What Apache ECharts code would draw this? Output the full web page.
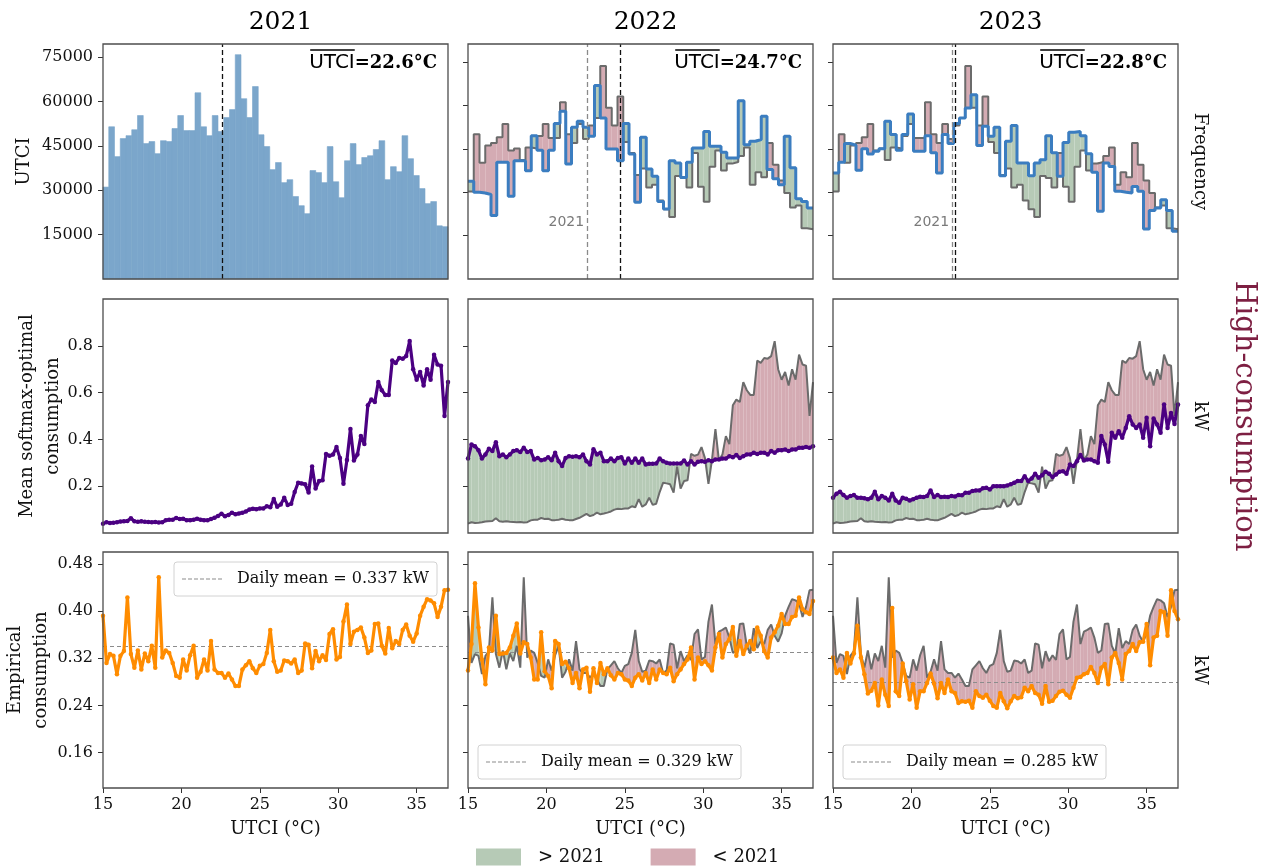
<!DOCTYPE html>
<html>
<head>
<meta charset="utf-8">
<script src="https://cdn.jsdelivr.net/npm/echarts@6/dist/echarts.min.js"></script>
<style>
  html, body { margin: 0; padding: 0; background: #fff; }
  #chart { width: 1272px; height: 867px; }
</style>
</head>
<body>
<div id="chart"></div>
<script>
// ---------------------------------------------------------------- data
const years = ['2021', '2022', '2023'];
const meanUtci = [22.6, 24.7, 22.8];          // yearly mean UTCI (°C)
const dailyMean = [0.337, 0.329, 0.285];      // daily mean consumption (kW)
const refYear = '2021';

// UTCI histogram: 60 bins between 15 and 37 °C
const histLo = 15, histHi = 37, histBins = 60;
const hist2021 = [31100, 51500, 41400, 47500, 48500, 50500, 55300, 45800, 46500, 42400,
  46800, 46500, 50900, 55300, 50200, 50200, 63000, 51500, 48500, 55300,
  49900, 54600, 57300, 75900, 61000, 54600, 65100, 48800, 44800, 37000,
  39400, 32600, 33600, 27900, 24800, 22100, 36700, 36000, 32600, 44800,
  32900, 27500, 40000, 45800, 38700, 41100, 41700, 43800, 46800, 33600,
  38000, 36300, 48500, 40700, 35000, 30600, 25500, 26200, 18000, 17700];
// 2021 reference steps as shown in the 2022 / 2023 panels
const hist2021Ref = [30200, 50000, 40200, 46100, 47000, 49000, 53600, 44400, 45100, 41100,
  45400, 45100, 49400, 53600, 48700, 48700, 61100, 50000, 47000, 53600,
  48400, 53000, 55600, 73600, 59200, 53000, 63100, 47300, 43500, 35900,
  38200, 31600, 32600, 27100, 24100, 21400, 35600, 34900, 31600, 43500,
  31900, 26700, 38800, 44400, 37500, 39900, 40400, 42500, 45400, 32600,
  36900, 35200, 47000, 39500, 34000, 29700, 24700, 25400, 17500, 17200];
const hist2022 = [33800, 30000, 29700, 29200, 21900, 40300, 40300, 28600, 40900, 40900,
  37400, 49500, 44500, 37400, 44500, 53700, 58000, 39700, 52400, 54500,
  52400, 49300, 66900, 55600, 44900, 44900, 40900, 53700, 43200, 26500,
  49000, 38000, 35500, 26800, 24200, 40900, 40100, 35100, 40300, 45300,
  45300, 51000, 45900, 45900, 43800, 41800, 41800, 61600, 46400, 47600,
  48200, 56200, 37800, 34600, 32600, 49300, 38400, 27700, 26800, 24500];
const hist2023 = [36600, 40300, 46800, 46200, 37600, 45000, 43200, 44100, 45000, 54500,
  49900, 44500, 49900, 57000, 44100, 44100, 49500, 43600, 36600, 49900,
  46800, 53700, 55600, 59100, 63700, 46100, 52800, 49300, 52400, 35700,
  47600, 53000, 40100, 40100, 35700, 40100, 41200, 49500, 43600, 35500,
  47200, 50700, 51000, 49500, 43300, 36900, 23400, 40100, 38900, 30300,
  30000, 29700, 32000, 30300, 17300, 23700, 24500, 27400, 23700, 16500];

// UTCI grid of the consumption curves: 100 points from 15 to 37 °C
const curveLo = 15, curveHi = 37, curveN = 100;
const softmax2021 = [0.040, 0.046, 0.043, 0.044, 0.046, 0.049, 0.050, 0.051, 0.063, 0.050,
  0.048, 0.050, 0.048, 0.047, 0.046, 0.047, 0.045, 0.046, 0.054, 0.057,
  0.057, 0.064, 0.060, 0.061, 0.055, 0.055, 0.057, 0.061, 0.057, 0.055,
  0.054, 0.060, 0.065, 0.073, 0.082, 0.072, 0.077, 0.087, 0.080, 0.083,
  0.087, 0.092, 0.100, 0.104, 0.102, 0.105, 0.105, 0.114, 0.110, 0.145,
  0.112, 0.122, 0.151, 0.120, 0.125, 0.175, 0.215, 0.212, 0.208, 0.173,
  0.284, 0.190, 0.222, 0.225, 0.338, 0.330, 0.335, 0.367, 0.320, 0.210,
  0.312, 0.444, 0.310, 0.335, 0.414, 0.380, 0.546, 0.570, 0.560, 0.645,
  0.610, 0.590, 0.590, 0.737, 0.727, 0.748, 0.745, 0.756, 0.820, 0.700,
  0.655, 0.688, 0.630, 0.700, 0.655, 0.762, 0.720, 0.715, 0.500, 0.645];
const softmax2022 = [0.318, 0.378, 0.371, 0.354, 0.318, 0.336, 0.360, 0.350, 0.388, 0.328,
  0.336, 0.324, 0.336, 0.350, 0.354, 0.346, 0.364, 0.346, 0.350, 0.314,
  0.321, 0.311, 0.314, 0.324, 0.311, 0.343, 0.307, 0.286, 0.321, 0.328,
  0.326, 0.328, 0.324, 0.336, 0.307, 0.293, 0.358, 0.336, 0.343, 0.307,
  0.307, 0.318, 0.307, 0.321, 0.324, 0.297, 0.318, 0.300, 0.318, 0.300,
  0.318, 0.293, 0.296, 0.296, 0.297, 0.318, 0.307, 0.300, 0.297, 0.297,
  0.297, 0.297, 0.310, 0.293, 0.307, 0.293, 0.304, 0.307, 0.304, 0.311,
  0.307, 0.314, 0.314, 0.318, 0.318, 0.328, 0.324, 0.333, 0.321, 0.328,
  0.336, 0.336, 0.343, 0.338, 0.343, 0.343, 0.336, 0.350, 0.343, 0.354,
  0.354, 0.357, 0.350, 0.357, 0.357, 0.364, 0.364, 0.367, 0.364, 0.371];
const softmax2023 = [0.151, 0.168, 0.176, 0.162, 0.151, 0.158, 0.162, 0.151, 0.151, 0.148,
  0.144, 0.151, 0.176, 0.144, 0.158, 0.151, 0.139, 0.168, 0.139, 0.129,
  0.151, 0.146, 0.139, 0.144, 0.151, 0.155, 0.154, 0.158, 0.182, 0.154,
  0.162, 0.154, 0.155, 0.154, 0.158, 0.156, 0.162, 0.161, 0.172, 0.172,
  0.179, 0.182, 0.182, 0.191, 0.193, 0.186, 0.200, 0.200, 0.200, 0.200,
  0.203, 0.208, 0.215, 0.222, 0.222, 0.243, 0.222, 0.233, 0.253, 0.236,
  0.247, 0.262, 0.253, 0.239, 0.250, 0.262, 0.264, 0.253, 0.293, 0.286,
  0.307, 0.333, 0.310, 0.314, 0.314, 0.307, 0.300, 0.414, 0.378, 0.304,
  0.428, 0.407, 0.435, 0.407, 0.449, 0.499, 0.464, 0.449, 0.464, 0.407,
  0.492, 0.371, 0.489, 0.464, 0.428, 0.549, 0.449, 0.513, 0.466, 0.549];

const empirical2021 = [0.392, 0.312, 0.327, 0.324, 0.293, 0.324, 0.332, 0.423, 0.327, 0.304,
  0.333, 0.301, 0.328, 0.315, 0.341, 0.304, 0.457, 0.321, 0.333, 0.329,
  0.312, 0.290, 0.287, 0.318, 0.299, 0.325, 0.341, 0.287, 0.297, 0.318,
  0.299, 0.349, 0.301, 0.295, 0.295, 0.287, 0.294, 0.284, 0.273, 0.273,
  0.301, 0.308, 0.315, 0.303, 0.295, 0.307, 0.310, 0.329, 0.368, 0.315,
  0.297, 0.299, 0.316, 0.315, 0.311, 0.318, 0.295, 0.299, 0.345, 0.343,
  0.303, 0.332, 0.315, 0.325, 0.317, 0.361, 0.369, 0.318, 0.322, 0.382,
  0.411, 0.344, 0.365, 0.368, 0.372, 0.355, 0.329, 0.333, 0.378, 0.379,
  0.341, 0.328, 0.371, 0.337, 0.349, 0.344, 0.368, 0.377, 0.358, 0.348,
  0.362, 0.392, 0.407, 0.420, 0.418, 0.413, 0.390, 0.407, 0.435, 0.436];
const empirical2022 = [0.299, 0.344, 0.447, 0.372, 0.318, 0.276, 0.338, 0.333, 0.392, 0.327,
  0.328, 0.329, 0.338, 0.358, 0.379, 0.328, 0.347, 0.344, 0.321, 0.284,
  0.284, 0.364, 0.298, 0.290, 0.269, 0.349, 0.344, 0.310, 0.314, 0.303,
  0.278, 0.295, 0.269, 0.301, 0.304, 0.263, 0.303, 0.278, 0.312, 0.293,
  0.303, 0.291, 0.284, 0.295, 0.293, 0.284, 0.282, 0.273, 0.287, 0.293,
  0.282, 0.295, 0.278, 0.301, 0.284, 0.301, 0.295, 0.293, 0.304, 0.281,
  0.293, 0.301, 0.310, 0.318, 0.338, 0.284, 0.321, 0.310, 0.315, 0.308,
  0.299, 0.338, 0.361, 0.321, 0.344, 0.352, 0.373, 0.324, 0.349, 0.327,
  0.341, 0.349, 0.335, 0.372, 0.358, 0.332, 0.321, 0.355, 0.364, 0.375,
  0.395, 0.378, 0.378, 0.390, 0.392, 0.423, 0.403, 0.398, 0.395, 0.417];
const empirical2023 = [0.321, 0.295, 0.301, 0.287, 0.329, 0.311, 0.328, 0.375, 0.321, 0.293,
  0.260, 0.265, 0.278, 0.240, 0.284, 0.258, 0.239, 0.405, 0.264, 0.256,
  0.311, 0.281, 0.250, 0.276, 0.236, 0.264, 0.264, 0.278, 0.294, 0.277,
  0.252, 0.278, 0.261, 0.284, 0.264, 0.261, 0.244, 0.247, 0.246, 0.248,
  0.236, 0.264, 0.256, 0.253, 0.258, 0.248, 0.239, 0.236, 0.261, 0.247,
  0.235, 0.247, 0.256, 0.252, 0.254, 0.270, 0.264, 0.273, 0.261, 0.258,
  0.243, 0.273, 0.246, 0.248, 0.256, 0.263, 0.265, 0.258, 0.253, 0.270,
  0.287, 0.288, 0.293, 0.295, 0.305, 0.295, 0.278, 0.304, 0.310, 0.276,
  0.321, 0.329, 0.312, 0.284, 0.327, 0.332, 0.344, 0.332, 0.347, 0.348,
  0.378, 0.308, 0.355, 0.358, 0.400, 0.398, 0.358, 0.435, 0.400, 0.386];

// axis ticks
const xTicks = [15, 20, 25, 30, 35];
const freqTicks = [15000, 30000, 45000, 60000, 75000];
const softmaxTicks = [0.2, 0.4, 0.6, 0.8];
const empiricalTicks = [0.16, 0.24, 0.32, 0.40, 0.48];

// ---------------------------------------------------------------- layout & style
const gridLeft = [103, 468, 833], gridW = 345;
const gridTop = [44, 299, 552], gridH = [235, 234, 236];
const SERIF = '"DejaVu Serif", serif';
const SANS = '"DejaVu Sans", sans-serif';
const C = {
  bar: '#7ba6cb', blue: '#3b7dc0', gray: '#6b6b6b', purple: '#4b0082',
  orange: '#ff8c00', above: '#b6cab6', below: '#d4abb3', maroon: '#7d1f42'
};
const GREEN_NAME = '> ' + refYear, PINK_NAME = '< ' + refYear;

const binEdges = Array.from({ length: histBins + 1 }, (_, k) => histLo + k * (histHi - histLo) / histBins);
const utci = Array.from({ length: curveN }, (_, i) => curveLo + i * (curveHi - curveLo) / (curveN - 1));

const histNew = [hist2021, hist2022, hist2023];
const softmax = [softmax2021, softmax2022, softmax2023];
const empirical = [empirical2021, empirical2022, empirical2023];

// ---------------------------------------------------------------- helpers
const measureCtx = document.createElement('canvas').getContext('2d');
function textWidth(str, font) { measureCtx.font = font; return measureCtx.measureText(str).width; }

function stepItems(values) {   // step line points at the bin edges
  return binEdges.map((e, k) => [e, values[Math.min(k, values.length - 1)]]);
}
function stepFillItems(newV, refV) {
  return newV.map((v, k) => [binEdges[k], binEdges[k + 1], v, refV[k]]);
}
function bandItems(newV, refV) {
  const out = [];
  for (let i = 0; i < curveN - 1; i++) {
    out.push([utci[i], utci[i + 1], newV[i], newV[i + 1], refV[i], refV[i + 1]]);
  }
  return out;
}
const empty = { type: 'group', children: [] };

// filled rectangles between two histograms, keeping only one sign
function stepFill(sign) {
  return function (params, api) {
    const x0 = api.value(0), x1 = api.value(1), a = api.value(2), b = api.value(3);
    if ((a - b) * sign <= 0) return empty;
    const p0 = api.coord([x0, Math.max(a, b)]), p1 = api.coord([x1, Math.min(a, b)]);
    return {
      type: 'rect',
      shape: { x: p0[0], y: p0[1], width: p1[0] - p0[0], height: p1[1] - p0[1] },
      style: { fill: api.visual('color') }
    };
  };
}
// filled band between two curves on one segment, split where they cross
function bandFill(sign) {
  return function (params, api) {
    const x0 = api.value(0), x1 = api.value(1);
    const a0 = api.value(2), a1 = api.value(3), b0 = api.value(4), b1 = api.value(5);
    const d0 = (a0 - b0) * sign, d1 = (a1 - b1) * sign;
    let poly = null;
    if (d0 >= 0 && d1 >= 0) poly = [[x0, a0], [x1, a1], [x1, b1], [x0, b0]];
    else if (d0 > 0 || d1 > 0) {
      const t = d0 / (d0 - d1);
      const xc = x0 + t * (x1 - x0), yc = a0 + t * (a1 - a0);
      poly = d0 > 0 ? [[x0, a0], [xc, yc], [x0, b0]] : [[xc, yc], [x1, a1], [x1, b1]];
    }
    if (!poly) return empty;
    return {
      type: 'polygon',
      shape: { points: poly.map(p => api.coord(p)) },
      style: { fill: api.visual('color') }
    };
  };
}

// ---------------------------------------------------------------- grids & axes
const grids = [], xAxes = [], yAxes = [];
const yRange = [
  [[0, 79500], [0, 81200], [0, 81200]],
  [[0, 1], [0, 1], [0, 1]],
  [[0.1, 0.5], [0.1, 0.5], [0.1, 0.5]]
];
const yTicks = [freqTicks, softmaxTicks, empiricalTicks];
const yFmt = [v => String(v), v => v.toFixed(1), v => v.toFixed(2)];
const yNames = ['UTCI', 'Mean softmax-optimal\nconsumption', 'Empirical\nconsumption'];
const yNameGap = [66, 37, 49];

for (let r = 0; r < 3; r++) {
  for (let c = 0; c < 3; c++) {
    grids.push({
      left: gridLeft[c], top: gridTop[r], width: gridW, height: gridH[r],
      show: true, borderColor: '#4d4d4d', borderWidth: 1.3,
      backgroundColor: 'transparent', z: 6
    });
    const idx = r * 3 + c;
    const bottom = r === 2;
    xAxes.push({
      type: 'value', gridIndex: idx, min: histLo, max: histHi,
      axisLine: { show: false },
      splitLine: { show: false },
      axisTick: { show: bottom, length: 5, customValues: xTicks, lineStyle: { color: '#333' } },
      axisLabel: {
        show: bottom, customValues: xTicks, margin: 9,
        fontFamily: SERIF, fontSize: 16, color: '#111'
      },
      name: bottom ? 'UTCI (°C)' : '', nameLocation: 'middle', nameGap: 32,
      nameMoveOverlap: false,
      nameTextStyle: { fontFamily: SERIF, fontSize: 18, color: '#111' }
    });
    yAxes.push({
      type: 'value', gridIndex: idx, min: yRange[r][c][0], max: yRange[r][c][1],
      axisLine: { show: false },
      splitLine: { show: false },
      axisTick: { show: true, length: 5, customValues: yTicks[r], lineStyle: { color: '#333' } },
      axisLabel: {
        show: c === 0, customValues: yTicks[r], margin: 10, formatter: yFmt[r],
        fontFamily: SERIF, fontSize: 16, color: '#111'
      },
      name: c === 0 ? yNames[r] : '', nameLocation: 'middle', nameRotate: 90,
      nameGap: yNameGap[r], nameMoveOverlap: false,
      nameTextStyle: { fontFamily: SERIF, fontSize: 18, color: '#111', lineHeight: 26, align: 'center' }
    });
  }
}

// ---------------------------------------------------------------- series
const series = [];
const vline = (x, color) => ({ xAxis: x, lineStyle: { color } });
const markV = lines => ({
  silent: true, symbol: ['none', 'none'], label: { show: false },
  lineStyle: { type: [5, 3], width: 1.3 }, data: lines
});

// row 1: UTCI histograms
series.push({
  type: 'custom', name: 'hist ' + years[0], xAxisIndex: 0, yAxisIndex: 0,
  data: hist2021.map((v, k) => [binEdges[k], binEdges[k + 1], v]),
  encode: { x: [0, 1], y: 2 },
  renderItem: function (params, api) {
    const p0 = api.coord([api.value(0), api.value(2)]);
    const p1 = api.coord([api.value(1), 0]);
    return {
      type: 'rect',
      shape: { x: p0[0], y: p0[1], width: p1[0] - p0[0], height: p1[1] - p0[1] },
      style: { fill: C.bar, stroke: C.bar, lineWidth: 0.6 }
    };
  },
  markLine: markV([vline(meanUtci[0], '#111')]),
  z: 2
});
for (let c = 1; c < 3; c++) {
  const items = stepFillItems(histNew[c], hist2021Ref);
  [[GREEN_NAME, 1, C.above], [PINK_NAME, -1, C.below]].forEach(([nm, sg, col]) => {
    series.push({
      type: 'custom', name: nm, xAxisIndex: c, yAxisIndex: c,
      data: items, encode: { x: [0, 1], y: [2, 3] },
      itemStyle: { color: col }, renderItem: stepFill(sg), z: 1
    });
  });
  series.push({
    type: 'line', name: 'ref hist ' + years[c], xAxisIndex: c, yAxisIndex: c,
    data: stepItems(hist2021Ref), step: 'end', symbol: 'none',
    lineStyle: { color: C.gray, width: 2 }, z: 3,
    markLine: markV([vline(meanUtci[0], '#8a8a8a'), vline(meanUtci[c], '#111')]),
    markPoint: {
      symbol: 'circle', symbolSize: 0, silent: true,
      data: [{
        coord: [meanUtci[0], 19500],
        label: {
          show: true, position: 'left', distance: 3, formatter: refYear,
          fontFamily: SANS, fontSize: 14, color: '#7a7a7a'
        }
      }]
    }
  });
  series.push({
    type: 'line', name: 'hist ' + years[c], xAxisIndex: c, yAxisIndex: c,
    data: stepItems(histNew[c]), step: 'end', symbol: 'none',
    lineStyle: { color: C.blue, width: 3 }, z: 4
  });
}

// rows 2 and 3: consumption curves
function curveRow(r, arrs, color, withMean) {
  for (let c = 0; c < 3; c++) {
    const ax = r * 3 + c;
    if (c > 0) {
      const items = bandItems(arrs[c], arrs[0]);
      [[GREEN_NAME, 1, C.above], [PINK_NAME, -1, C.below]].forEach(([nm, sg, col]) => {
        series.push({
          type: 'custom', name: nm, xAxisIndex: ax, yAxisIndex: ax,
          data: items, encode: { x: [0, 1], y: [2, 3, 4, 5] },
          itemStyle: { color: col }, renderItem: bandFill(sg), z: 1
        });
      });
      series.push({
        type: 'line', name: 'ref ' + years[c], xAxisIndex: ax, yAxisIndex: ax,
        data: utci.map((x, i) => [x, arrs[0][i]]), symbol: 'none',
        lineStyle: { color: C.gray, width: 2 }, z: 3
      });
    }
    const s = {
      type: 'line', name: 'curve ' + years[c], xAxisIndex: ax, yAxisIndex: ax,
      data: utci.map((x, i) => [x, arrs[c][i]]),
      symbol: 'circle', symbolSize: 4.5, showSymbol: true, showAllSymbol: true,
      itemStyle: { color }, lineStyle: { color, width: 3.2 }, z: 4
    };
    if (withMean) {
      s.markLine = {
        silent: true, symbol: ['none', 'none'], label: { show: false }, z: 2,
        lineStyle: { color: '#8c8c8c', type: [4, 3], width: 1.2 },
        data: [{ yAxis: dailyMean[c] }]
      };
    }
    series.push(s);
  }
}
curveRow(1, softmax, C.purple, false);
curveRow(2, empirical, C.orange, true);

// ---------------------------------------------------------------- text & annotations
const graphic = [];
// yearly mean UTCI labels (overlined UTCI)
for (let c = 0; c < 3; c++) {
  const right = gridLeft[c] + gridW - 11;
  const f1 = '20px ' + SANS, f2 = 'bold 18px ' + SERIF;
  const t2 = '=' + meanUtci[c].toFixed(1) + '°C';
  const w1 = textWidth('UTCI', f1), w2 = textWidth(t2, f2);
  const x1 = right - w2 - w1;
  graphic.push(
    { type: 'text', x: x1, y: 63, z: 100, style: { text: 'UTCI', font: f1, fill: '#000', verticalAlign: 'middle' } },
    { type: 'line', z: 100, shape: { x1: x1 + 1, y1: 50, x2: x1 + w1, y2: 50 }, style: { stroke: '#000', lineWidth: 1.6 } },
    { type: 'text', x: right - w2, y: 63, z: 100, style: { text: t2, font: f2, fill: '#000', verticalAlign: 'middle' } }
  );
}
// daily mean legends
for (let c = 0; c < 3; c++) {
  const bx = c === 0 ? gridLeft[0] + 71 : gridLeft[c] + 10;
  const by = c === 0 ? gridTop[2] + 10 : gridTop[2] + 193;
  graphic.push(
    { type: 'rect', z: 100, shape: { x: bx, y: by, width: 263, height: 34, r: 3 },
      style: { fill: 'rgba(255,255,255,0.85)', stroke: '#d2d2d2', lineWidth: 1 } },
    { type: 'line', z: 101, shape: { x1: bx + 8, y1: by + 17, x2: bx + 48, y2: by + 17 },
      style: { stroke: '#8c8c8c', lineWidth: 1.2, lineDash: [4, 2] } },
    { type: 'text', z: 101, x: bx + 63, y: by + 17,
      style: { text: 'Daily mean = ' + dailyMean[c].toFixed(3) + ' kW', font: '16px ' + SERIF, fill: '#111', verticalAlign: 'middle' } }
  );
}
// right-hand row labels
const rightLabel = (text, x, y, size, color) => ({
  type: 'text', x, y, rotation: -Math.PI / 2, z: 100,
  style: { text, font: size + 'px ' + SERIF, fill: color, align: 'center', verticalAlign: 'middle' }
});
graphic.push(
  rightLabel('Frequency', 1200, gridTop[0] + gridH[0] / 2, 18, '#111'),
  rightLabel('kW', 1200, gridTop[1] + gridH[1] / 2, 18, '#111'),
  rightLabel('kW', 1200, gridTop[2] + gridH[2] / 2, 18, '#111'),
  rightLabel('High-consumption', 1244, gridTop[1] + gridH[1] / 2, 29, C.maroon)
);

const titles = years.map((y, c) => ({
  text: y, left: gridLeft[c] + gridW / 2, top: 5, textAlign: 'center',
  textStyle: { fontFamily: SERIF, fontSize: 25, fontWeight: 'normal', color: '#000' }
}));

const chart = echarts.init(document.getElementById('chart'), null, { renderer: 'canvas' });
chart.setOption({
  animation: false,
  backgroundColor: '#fff',
  title: titles,
  legend: {
    left: 471, top: 843, itemWidth: 45, itemHeight: 17, itemGap: 46,
    selectedMode: false,
    textStyle: { fontFamily: SERIF, fontSize: 18, color: '#111', padding: [0, 0, 0, 12] },
    data: [{ name: GREEN_NAME, icon: 'rect' }, { name: PINK_NAME, icon: 'rect' }]
  },
  grid: grids,
  xAxis: xAxes,
  yAxis: yAxes,
  series,
  graphic
});
</script>
</body>
</html>
